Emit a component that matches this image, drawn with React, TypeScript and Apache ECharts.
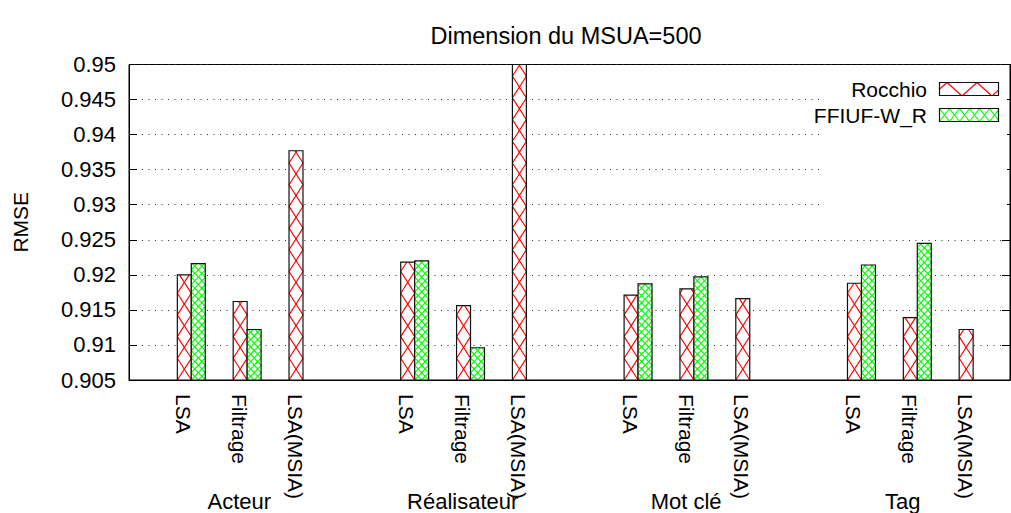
import React, { useEffect, useRef } from 'react';
import * as echarts from 'echarts';

// ---------- data ----------
const groups = ['Acteur', 'Réalisateur', 'Mot clé', 'Tag'];
const methods = ['LSA', 'Filtrage', 'LSA(MSIA)'];
const seriesNames = ['Rocchio', 'FFIUF-W_R'];
// one value per (group, method), group-major order
const rocchio = [0.92, 0.9162, 0.9377, 0.9218, 0.9156, 0.95, 0.9171, 0.918, 0.9166, 0.9188, 0.9139, 0.9122];
const ffiufWR: (number | null)[] = [0.9216, 0.9122, null, 0.922, 0.9096, null, 0.9187, 0.9197, null, 0.9214, 0.9245, null];
const yTickLabels = ['0.905', '0.91', '0.915', '0.92', '0.925', '0.93', '0.935', '0.94', '0.945', '0.95'];
const title = 'Dimension du MSUA=500';
const yName = 'RMSE';

// ---------- layout constants ----------
const Y_MIN = 0.905;
const Y_MAX = 0.95;
const Y_STEP = 0.005;
const X_MIN = -1.1155;
const X_MAX = 14.66;
const SLOT = 4; // clusters per group incl. gap
const FONT = '"Liberation Sans", Arial, sans-serif';

const pos = (i: number) => Math.floor(i / 3) * SLOT + (i % 3);
const labelShift = -0.14;
const groupLabelShift = [-0.14, -0.14, -0.14, -0.26];
const labelPositions = rocchio.map((_, i) => pos(i) + labelShift);
const labelTexts = rocchio.map((_, i) => methods[i % 3]);
const groupPositions = groups.map((_, g) => g * SLOT + 1 + groupLabelShift[g]);

function hatch(x0: number, y0: number, w: number, h: number, m: number, d: number, ax: number, ay: number) {
  const segs: number[][] = [];
  const span = h / m;
  const kmin = Math.floor((x0 - span - ax) / d) - 1;
  const kmax = Math.ceil((x0 + w + span - ax) / d) + 1;
  for (const s of [1, -1]) {
    for (let k = kmin; k <= kmax; k++) {
      const cx = ax + k * d;
      const xa = cx + (y0 - ay) / (s * m);
      const xb = cx + (y0 + h - ay) / (s * m);
      const lo = Math.max(Math.min(xa, xb), x0);
      const hi = Math.min(Math.max(xa, xb), x0 + w);
      if (hi - lo > 0.05) {
        segs.push([lo, ay + s * m * (lo - cx), hi, ay + s * m * (hi - cx)]);
      }
    }
  }
  return segs;
}

const PATTERNS = [
  { color: '#ff0000', m: 1.55, d: 14 },
  { color: '#00ff00', m: 1.05, d: 7 },
];

function makeRender(side: number) {
  const pat = PATTERNS[side];
  return (params: any, api: any) => {
    const x = api.value(0);
    const y = api.value(1);
    const top = api.coord([x, y]);
    const base = api.coord([x, Y_MIN]);
    const w = api.size([0.25, 0])[0];
    const left = side === 0 ? top[0] - w : top[0];
    const h = base[1] - top[1];
    const segs = hatch(left, top[1], w, h, pat.m, pat.d, left, base[1]);
    const children: any[] = [
      { type: 'rect', shape: { x: left, y: top[1], width: w, height: h }, style: { fill: '#fff', stroke: 'none' } },
    ];
    segs.forEach((s) =>
      children.push({ type: 'line', shape: { x1: s[0], y1: s[1], x2: s[2], y2: s[3] }, style: { stroke: pat.color, lineWidth: 1.15 } })
    );
    children.push({ type: 'rect', shape: { x: left, y: top[1], width: w, height: h }, style: { fill: 'none', stroke: '#111', lineWidth: 1.2 } });
    return { type: 'group', children };
  };
}

function legendSwatch(x: number, y: number, w: number, h: number, color: string, m: number, d: number, ax: number, ay: number) {
  const segs = hatch(x, y, w, h, m, d, ax, ay);
  const children: any[] = segs.map((s) => ({
    type: 'line',
    z: 22,
    shape: { x1: s[0], y1: s[1], x2: s[2], y2: s[3] },
    style: { stroke: color, lineWidth: 1.15 },
  }));
  children.push({ type: 'rect', z: 23, shape: { x, y, width: w, height: h }, style: { fill: 'none', stroke: '#111', lineWidth: 1.2 } });
  return children;
}

export default function App() {
  const ref = useRef<HTMLDivElement>(null);
  useEffect(() => {
    if (!ref.current) return;
    const chart = echarts.init(ref.current, undefined, { renderer: 'svg' });
    const d0 = rocchio.map((v, i) => [pos(i), v]);
    const d1 = ffiufWR.map((v, i) => (v == null ? null : [pos(i), v])).filter((v) => v != null);
    chart.setOption({
      animation: false,
      backgroundColor: '#fff',
      textStyle: { fontFamily: FONT },
      title: {
        text: title,
        left: 561,
        top: 19,
        textAlign: 'center',
        textStyle: { fontSize: 23.5, fontWeight: 'normal', color: '#000', fontFamily: FONT },
      },
      grid: {
        left: 129,
        right: 1,
        top: 64.5,
        bottom: 133,
        show: true,
        borderColor: '#000',
        borderWidth: 1,
        backgroundColor: 'transparent',
      },
      xAxis: [
        {
          type: 'value',
          min: X_MIN,
          max: X_MAX,
          position: 'bottom',
          axisLine: { show: true, onZero: false, lineStyle: { color: '#000', width: 1 } },
          axisTick: { show: false },
          splitLine: { show: false },
          axisLabel: {
            customValues: labelPositions,
            formatter: (v: number) => {
              const i = labelPositions.findIndex((p) => Math.abs(p - v) < 1e-6);
              return i >= 0 ? labelTexts[i] : '';
            },
            rotate: -90,
            margin: 14,
            fontSize: 21,
            color: '#000',
            fontFamily: FONT,
          },
        },
        {
          type: 'value',
          min: X_MIN,
          max: X_MAX,
          position: 'bottom',
          axisLine: { show: false, onZero: false },
          axisTick: { show: false },
          splitLine: { show: false },
          axisLabel: {
            customValues: groupPositions,
            formatter: (v: number) => {
              const i = groupPositions.findIndex((p) => Math.abs(p - v) < 1e-6);
              return i >= 0 ? groups[i] : '';
            },
            margin: 110,
            fontSize: 22,
            color: '#000',
            fontFamily: FONT,
          },
        },
      ],
      yAxis: [
        {
          type: 'value',
          min: Y_MIN,
          max: Y_MAX,
          interval: Y_STEP,
          position: 'left',
          name: yName,
          nameLocation: 'middle',
          nameRotate: 90,
          nameGap: 98,
          nameTextStyle: { fontSize: 21, color: '#000', fontFamily: FONT },
          axisLine: { show: true, onZero: false, lineStyle: { color: '#000', width: 1 } },
          axisTick: { show: true, inside: true, length: 8, lineStyle: { color: '#000' } },
          axisLabel: {
            margin: 13,
            fontSize: 22,
            color: '#000',
            fontFamily: FONT,
            formatter: (v: number) => {
              const i = Math.round((v - Y_MIN) / Y_STEP);
              return yTickLabels[i] ?? '';
            },
          },
          splitLine: { show: true, lineStyle: { color: '#333', width: 1, type: [1, 5.5] } },
        },
        {
          type: 'value',
          min: Y_MIN,
          max: Y_MAX,
          interval: Y_STEP,
          position: 'right',
          axisLine: { show: true, onZero: false, lineStyle: { color: '#000', width: 1 } },
          axisTick: { show: true, inside: true, length: 8, lineStyle: { color: '#000' } },
          axisLabel: { show: false },
          splitLine: { show: false },
        },
      ],
      series: [
        {
          type: 'custom',
          name: seriesNames[0],
          xAxisIndex: 0,
          yAxisIndex: 0,
          renderItem: makeRender(0),
          data: d0,
          z: 5,
        },
        {
          type: 'custom',
          name: seriesNames[1],
          xAxisIndex: 0,
          yAxisIndex: 0,
          renderItem: makeRender(1),
          data: d1,
          z: 5,
        },
      ],
      graphic: [
        { type: 'rect', z: 20, shape: { x: 822, y: 66, width: 185, height: 158 }, style: { fill: '#fff', stroke: 'none' } },
        {
          type: 'text',
          z: 21,
          style: { text: seriesNames[0], x: 927, y: 89, fill: '#000', fontSize: 21, fontFamily: FONT, align: 'right', verticalAlign: 'middle', textAlign: 'right', textVerticalAlign: 'middle' },
        },
        {
          type: 'text',
          z: 21,
          style: { text: seriesNames[1], x: 927, y: 115.5, fill: '#000', fontSize: 21, fontFamily: FONT, align: 'right', verticalAlign: 'middle', textAlign: 'right', textVerticalAlign: 'middle' },
        },
        ...legendSwatch(939.5, 82.5, 59, 13, '#ff0000', 0.9, 30, 947, 82.5),
        ...legendSwatch(939.5, 108.5, 59, 13, '#00ff00', 1.3, 10, 944.5, 115),
      ],
    });
    return () => chart.dispose();
  }, []);
  return <div ref={ref} style={{ position: 'fixed', left: 0, top: 0, width: 1011, height: 513 }} />;
}
